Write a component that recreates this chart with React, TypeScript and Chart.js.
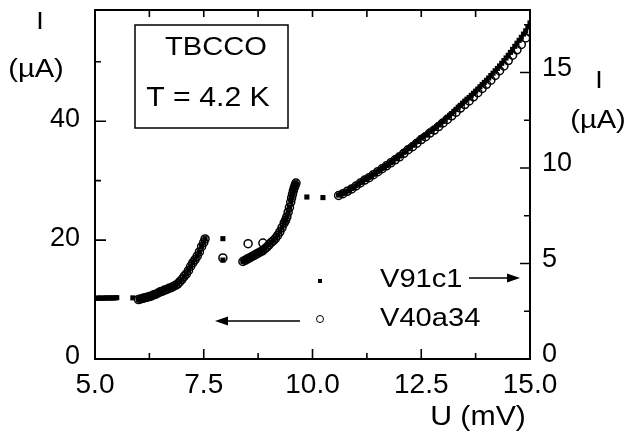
import React, { useEffect, useRef } from "react";
import { Chart, registerables } from "chart.js";

Chart.register(...registerables);

// ---- Data ----
// V40a34 (open circles), current in µA on the LEFT axis
const v40U = [
  6.0, 6.05, 6.1, 6.15, 6.2, 6.25, 6.3, 6.35, 6.4, 6.45, 6.5, 6.55, 6.6, 6.65, 6.7, 6.75, 6.8, 6.85, 6.9, 6.95,
  7.0, 7.05, 7.1, 7.15, 7.2, 7.25, 7.3, 7.35, 7.4, 7.45, 7.5, 7.53,
  7.94, 8.52, 8.86,
  8.4, 8.45, 8.5, 8.55, 8.6, 8.65, 8.7, 8.75, 8.8, 8.85, 8.9, 8.95, 9.0, 9.05, 9.1, 9.15, 9.2, 9.25, 9.3, 9.35,
  9.38, 9.41, 9.44, 9.47, 9.5, 9.52, 9.54, 9.56, 9.58, 9.6, 9.62,
  10.6, 10.7, 10.8, 10.9, 11.0, 11.1, 11.2, 11.3, 11.4, 11.5, 11.6, 11.7, 11.8, 11.9, 12.0, 12.1, 12.2, 12.3, 12.4,
  12.5, 12.6, 12.7, 12.8, 12.9, 13.0, 13.1, 13.2, 13.3, 13.4, 13.5, 13.6, 13.7, 13.8, 13.9, 14.0, 14.1, 14.2, 14.3,
  14.4, 14.5, 14.6, 14.7, 14.8, 14.9, 15.0,
];
const v40I = [
  10.0, 10.1, 10.2, 10.3, 10.4, 10.5, 10.6, 10.8, 10.9, 11.1, 11.3, 11.4, 11.6, 11.7, 11.9, 12.0, 12.2, 12.4, 12.6, 13.0,
  13.4, 13.9, 14.3, 14.9, 15.6, 16.2, 16.7, 17.3, 18.0, 18.9, 19.6, 20.2,
  17.0, 19.4, 19.5,
  16.4, 16.6, 16.8, 17.0, 17.2, 17.4, 17.6, 17.8, 18.0, 18.2, 18.5, 18.8, 19.2, 19.6, 19.9, 20.3, 20.8, 21.4, 22.1, 22.9,
  23.3, 23.9, 24.7, 25.5, 26.4, 27.1, 27.7, 28.3, 28.8, 29.2, 29.6,
  27.5, 27.8, 28.2, 28.6, 29.1, 29.6, 30.1, 30.5, 31.0, 31.5, 32.0, 32.5, 33.0, 33.5, 34.0, 34.6, 35.2, 35.7, 36.3,
  36.9, 37.4, 38.0, 38.5, 39.1, 39.7, 40.3, 40.9, 41.5, 42.2, 42.8, 43.4, 44.1, 44.8, 45.5, 46.2, 46.9, 47.7, 48.5,
  49.3, 50.2, 51.1, 52.0, 52.9, 54.0, 55.0,
];

// V91c1 (filled squares), current in µA on the RIGHT axis
const v91U = [
  5.02, 5.06, 5.1, 5.14, 5.18, 5.22, 5.26, 5.3, 5.34, 5.38, 5.42, 5.46, 5.5,
  5.87,
  6.0, 6.05, 6.1, 6.15, 6.2, 6.25, 6.3, 6.35, 6.4, 6.45, 6.5, 6.55, 6.6, 6.65, 6.7, 6.75, 6.8, 6.85, 6.9, 6.95,
  7.0, 7.05, 7.1, 7.15, 7.2, 7.25, 7.3, 7.35, 7.4, 7.45, 7.5, 7.53,
  7.94, 7.94,
  8.4, 8.45, 8.5, 8.55, 8.6, 8.65, 8.7, 8.75, 8.8, 8.85, 8.9, 8.95, 9.0, 9.05, 9.1, 9.15, 9.2, 9.25, 9.3, 9.35,
  9.38, 9.41, 9.44, 9.47, 9.5, 9.52, 9.54, 9.56, 9.58, 9.6, 9.62,
  9.87, 10.24,
  10.6, 10.65, 10.7, 10.75, 10.8, 10.85, 10.9, 10.95, 11.0, 11.05, 11.1, 11.15, 11.2, 11.25, 11.3, 11.35, 11.4, 11.45,
  11.5, 11.55, 11.6, 11.65, 11.7, 11.75, 11.8, 11.85, 11.9, 11.95, 12.0, 12.05, 12.1, 12.15, 12.2, 12.25, 12.3, 12.35,
  12.4, 12.45, 12.5, 12.55, 12.6, 12.65, 12.7, 12.75, 12.8, 12.85, 12.9, 12.95, 13.0, 13.05, 13.1, 13.15, 13.2, 13.25,
  13.3, 13.35, 13.4, 13.45, 13.5, 13.55, 13.6, 13.65, 13.7, 13.75, 13.8, 13.85, 13.9, 13.95, 14.0, 14.05, 14.1, 14.15,
  14.2, 14.25, 14.3, 14.35, 14.4, 14.45, 14.5, 14.55, 14.6, 14.65, 14.7, 14.75, 14.8, 14.85, 14.9, 14.95, 15.0,
];
const v91I = [
  3.18, 3.18, 3.19, 3.19, 3.18, 3.19, 3.2, 3.19, 3.2, 3.19, 3.2, 3.2, 3.21,
  3.2,
  3.12, 3.15, 3.18, 3.21, 3.24, 3.27, 3.31, 3.37, 3.4, 3.46, 3.52, 3.55, 3.62, 3.65, 3.71, 3.74, 3.8, 3.87, 3.93, 4.05,
  4.18, 4.33, 4.46, 4.65, 4.86, 5.05, 5.21, 5.39, 5.61, 5.89, 6.11, 6.3,
  6.3, 5.18,
  5.11, 5.18, 5.24, 5.3, 5.36, 5.43, 5.49, 5.55, 5.61, 5.68, 5.77, 5.86, 5.99, 6.11, 6.21, 6.33, 6.49, 6.67, 6.89, 7.14,
  7.27, 7.45, 7.7, 7.95, 8.23, 8.45, 8.64, 8.82, 8.98, 9.11, 9.23,
  8.48, 8.45,
  8.58, 8.62, 8.67, 8.73, 8.79, 8.85, 8.92, 9.0, 9.07, 9.15, 9.23, 9.31, 9.39, 9.45, 9.51, 9.59, 9.67, 9.75,
  9.82, 9.9, 9.98, 10.06, 10.13, 10.21, 10.29, 10.38, 10.48, 10.56, 10.63, 10.72, 10.82, 10.91, 11.01, 11.1, 11.19, 11.28,
  11.38, 11.47, 11.57, 11.65, 11.72, 11.81, 11.91, 11.99, 12.07, 12.16, 12.25, 12.35, 12.44, 12.55, 12.66, 12.75, 12.85, 12.96,
  13.07, 13.18, 13.28, 13.39, 13.5, 13.6, 13.69, 13.8, 13.91, 14.02, 14.13, 14.25, 14.37, 14.48, 14.59, 14.71, 14.84, 14.96,
  15.09, 15.21, 15.34, 15.48, 15.62, 15.76, 15.9, 16.05, 16.21, 16.37, 16.53, 16.68, 16.84, 17.01, 17.18, 17.38, 17.59,
];

const xMajor = [5, 7.5, 10, 12.5, 15];
const xMinor = [6.25, 8.75, 11.25, 13.75];
const leftMajor = [0, 20, 40];
const leftMinor = [10, 30, 50];
const rightMajor = [0, 5, 10, 15];
const rightMinor = [2.5, 7.5, 12.5, 17.5];

const FONT = "'Liberation Sans', Arial, Helvetica, sans-serif";
const STRETCH = 1.12;

function txt(ctx: CanvasRenderingContext2D, s: string, x: number, y: number, size: number, align: "left" | "center") {
  ctx.save();
  ctx.font = `${size}px ${FONT}`;
  ctx.textAlign = "left";
  ctx.textBaseline = "alphabetic";
  const w = ctx.measureText(s).width * STRETCH;
  const x0 = align === "center" ? x - w / 2 : x;
  ctx.translate(x0, y);
  ctx.scale(STRETCH, 1);
  ctx.fillText(s, 0, 0);
  ctx.restore();
}

const decorPlugin = {
  id: "decor",
  afterDraw(chart: any) {
    const ctx = chart.ctx as CanvasRenderingContext2D;
    const { left, right, top, bottom } = chart.chartArea;
    const sx = chart.scales.x;
    const sy = chart.scales.y;
    const sy2 = chart.scales.y2;
    ctx.save();
    ctx.strokeStyle = "#000";
    ctx.fillStyle = "#000";
    ctx.lineWidth = 2;
    // top frame line
    ctx.beginPath();
    ctx.moveTo(left - 1, top);
    ctx.lineTo(right + 1, top);
    ctx.stroke();
    // ticks inward
    ctx.lineWidth = 1.6;
    ctx.beginPath();
    xMajor.forEach((v) => {
      const p = sx.getPixelForValue(v);
      ctx.moveTo(p, bottom);
      ctx.lineTo(p, bottom - 10);
      ctx.moveTo(p, top);
      ctx.lineTo(p, top + 7);
    });
    xMinor.forEach((v) => {
      const p = sx.getPixelForValue(v);
      ctx.moveTo(p, bottom);
      ctx.lineTo(p, bottom - 6);
      ctx.moveTo(p, top);
      ctx.lineTo(p, top + 7);
    });
    leftMajor.forEach((v) => {
      const p = sy.getPixelForValue(v);
      ctx.moveTo(left, p);
      ctx.lineTo(left + 11, p);
    });
    leftMinor.forEach((v) => {
      const p = sy.getPixelForValue(v);
      ctx.moveTo(left, p);
      ctx.lineTo(left + 6, p);
    });
    rightMajor.forEach((v) => {
      const p = sy2.getPixelForValue(v);
      ctx.moveTo(right, p);
      ctx.lineTo(right - 10, p);
    });
    rightMinor.forEach((v) => {
      const p = sy2.getPixelForValue(v);
      ctx.moveTo(right, p);
      ctx.lineTo(right - 6, p);
    });
    ctx.stroke();

    // axis titles
    txt(ctx, "I", 40, 29, 24, "center");
    txt(ctx, "(\u00B5A)", 36, 77, 26, "center");
    txt(ctx, "I", 599, 88, 24, "center");
    txt(ctx, "(\u00B5A)", 598, 128, 26, "center");
    txt(ctx, "U (mV)", 478, 425, 27, "center");

    // info box
    ctx.lineWidth = 1.5;
    ctx.strokeRect(135, 25, 153, 103);
    txt(ctx, "TBCCO", 216, 55, 26, "center");
    txt(ctx, "T = 4.2 K", 208, 106, 27, "center");

    // legend
    txt(ctx, "V91c1", 380, 287, 26, "left");
    txt(ctx, "V40a34", 380, 326, 26, "left");
    ctx.fillRect(318, 279, 4, 4);
    ctx.lineWidth = 1;
    ctx.beginPath();
    ctx.arc(320, 319, 3.5, 0, Math.PI * 2);
    ctx.stroke();

    // arrows
    ctx.lineWidth = 1.5;
    ctx.beginPath();
    ctx.moveTo(469, 278);
    ctx.lineTo(510, 278);
    ctx.moveTo(300, 321);
    ctx.lineTo(225, 321);
    ctx.stroke();
    ctx.beginPath();
    ctx.moveTo(520, 278);
    ctx.lineTo(507, 273.5);
    ctx.lineTo(507, 282.5);
    ctx.closePath();
    ctx.fill();
    ctx.beginPath();
    ctx.moveTo(215, 321);
    ctx.lineTo(228, 316.5);
    ctx.lineTo(228, 325.5);
    ctx.closePath();
    ctx.fill();
    ctx.restore();
  },
};

const zeroPadY = (s: any) => {
  s.paddingTop = 0;
  s.paddingBottom = 0;
};

export default function App() {
  const ref = useRef<HTMLCanvasElement | null>(null);
  useEffect(() => {
    document.body.style.margin = "0";
    const canvas = ref.current;
    if (!canvas) return;
    const chart = new Chart(canvas, {
      type: "scatter",
      data: {
        datasets: [
          {
            label: "V91c1",
            data: v91U.map((u, i) => ({ x: u, y: v91I[i] })),
            yAxisID: "y2",
            pointStyle: "rect",
            pointRadius: 3.6,
            pointBackgroundColor: "#000",
            pointBorderColor: "#000",
            pointBorderWidth: 0,
          },
          {
            label: "V40a34",
            data: v40U.map((u, i) => ({ x: u, y: v40I[i] })),
            yAxisID: "y",
            pointStyle: "circle",
            pointRadius: 4,
            pointBackgroundColor: "rgba(255,255,255,0)",
            pointBorderColor: "#000",
            pointBorderWidth: 1.5,
          },
        ],
      },
      options: {
        responsive: false,
        animation: false,
        events: [],
        layout: { padding: { top: 10, left: 0, right: 0, bottom: 0 } },
        plugins: { legend: { display: false }, tooltip: { enabled: false }, title: { display: false } },
        scales: {
          x: {
            type: "linear",
            min: 5,
            max: 15,
            grid: { display: false, drawTicks: false },
            border: { display: true, color: "#000", width: 2 },
            afterBuildTicks: (s: any) => {
              s.ticks = xMajor.map((v) => ({ value: v }));
            },
            afterFit: (s: any) => {
              s.height = 79;
              s.paddingLeft = 0;
              s.paddingRight = 0;
            },
            ticks: {
              color: "#000",
              padding: 9,
              maxRotation: 0,
              autoSkip: false,
              font: { family: FONT, size: 28 },
              callback: (v: any) => Number(v).toFixed(1),
            },
          },
          y: {
            type: "linear",
            position: "left",
            min: 0,
            max: 58.7,
            grid: { display: false, drawTicks: false },
            border: { display: true, color: "#000", width: 2 },
            afterBuildTicks: (s: any) => {
              s.ticks = leftMajor.map((v) => ({ value: v }));
            },
            afterFit: (s: any) => {
              s.width = 95;
              zeroPadY(s);
            },
            ticks: { color: "#000", padding: 15, labelOffset: -2, font: { family: FONT, size: 27 } },
          },
          y2: {
            type: "linear",
            position: "right",
            min: 0,
            max: 18.27,
            grid: { display: false, drawTicks: false },
            border: { display: true, color: "#000", width: 2 },
            afterBuildTicks: (s: any) => {
              s.ticks = rightMajor.map((v) => ({ value: v }));
            },
            afterFit: (s: any) => {
              s.width = 98;
              zeroPadY(s);
            },
            ticks: { color: "#000", padding: 12, labelOffset: -4, font: { family: FONT, size: 27 } },
          },
        },
      },
      plugins: [decorPlugin],
    });
    return () => chart.destroy();
  }, []);
  return (
    <div style={{ width: 628, height: 438, background: "#fff" }}>
      <canvas ref={ref} width={628} height={438} style={{ display: "block" }} />
    </div>
  );
}
